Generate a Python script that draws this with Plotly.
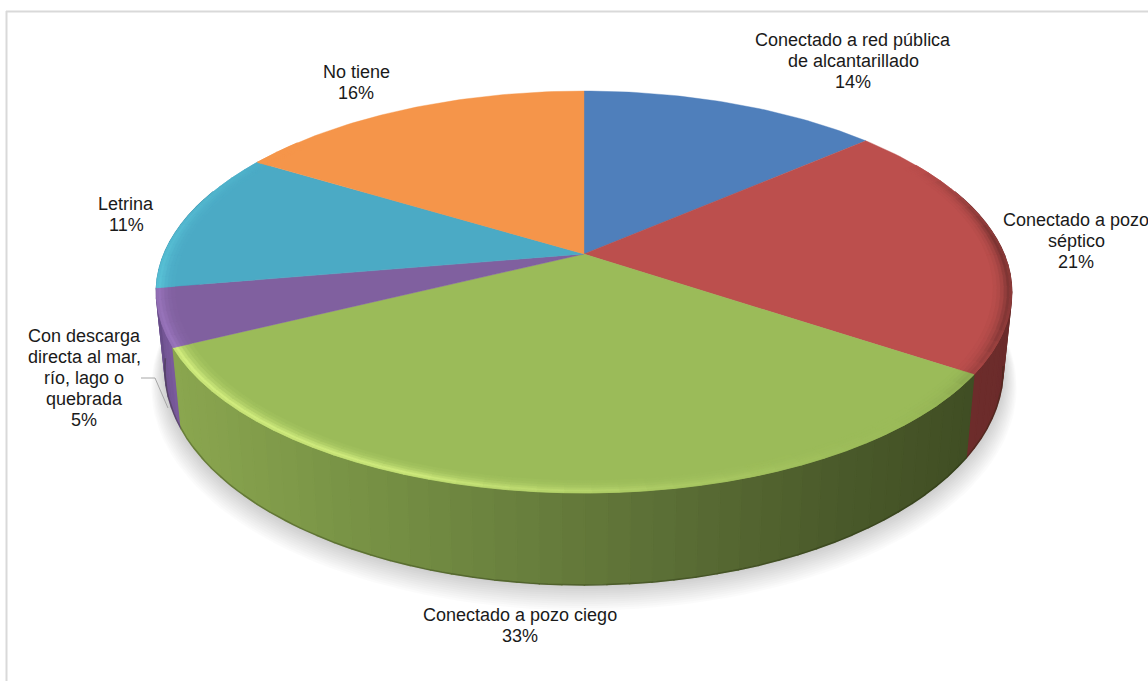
import numpy as np
import plotly.graph_objects as go

# ---- data ----
categories = [["Conectado a red pública", "de alcantarillado"], ["Conectado a pozo", "séptico"],
              ["Conectado a pozo ciego"], ["Con descarga", "directa al mar,", "río, lago o", "quebrada"],
              ["Letrina"], ["No tiene"]]
values = [13.6, 20.8, 33.3, 4.6, 11.4, 16.3]

# ---- style ----
top_colors = ["#4f7fbb", "#bc4f4d", "#9bbb59", "#80609f", "#4baac5", "#f5954a"]
wall_left = ["#3a5f8f", "#7a2e2c", "#8ca850", "#7a5a9c", "#3f9ab5", "#c87838"]
wall_right = ["#2c4468", "#5a1f1f", "#3d4a22", "#654a85", "#2f7f96", "#a06028"]
bevel_amp = [0.2, 1.0, 0.85, 0.45, 0.4, 0.1]
label_xy = [(853, 61), (1076, 241), (520, 625), (84, 378), (126, 214), (356, 82)]

W, H = 1148, 681
CX, CY, RX, RY, K, DEPTH = 584, 254, 420, 193.8, 0.189, 74.6
LINE_H = 21


def rgb(h):
    return np.array([int(h[i:i + 2], 16) for i in (1, 3, 5)], float)


def css(c):
    c = np.clip(c, 0, 255).round().astype(int)
    return f"rgb({c[0]},{c[1]},{c[2]})"


def proj(theta_deg, r=1.0, base=False):
    t = np.radians(np.asarray(theta_deg, float))
    u, v = r * np.sin(t), -r * np.cos(t)
    w = 1 - K * v
    x, y = RX * u / w, RY * v / w
    if base:
        return CX + 0.98 * x, CY + y + DEPTH / w
    return CX + x, CY + y


def poly(x, y, color, lw=0.6):
    return go.Scatter(x=np.append(x, x[0]), y=np.append(y, y[0]), mode="lines", fill="toself",
                      fillcolor=color, line=dict(color=color, width=lw), hoverinfo="skip", showlegend=False)


fig = go.Figure()
edges = 360.0 * np.cumsum([0] + values) / sum(values)

# soft shadow below the disc
full = np.arange(0, 360, 2.0)
for n in range(12, 0, -1):
    x, y = proj(full, 1 + 0.0026 * n, base=True)
    fig.add_trace(poly(x, y + 1.3 * n, "rgba(0,0,0,0.015)", 0))

# side wall, painted from the back towards the front
for i in [5, 4, 3, 0, 1, 2]:
    a0, a1 = max(edges[i], 70), min(edges[i + 1], 290)
    if a1 <= a0:
        continue
    steps = np.linspace(a0, a1, max(2, int((a1 - a0) / 2.5) + 1))
    cl, cr = rgb(wall_left[i]), rgb(wall_right[i])
    for s0, s1 in zip(steps[:-1], steps[1:]):
        xt, yt = proj([s0, s1])
        xb, yb = proj([s1, s0], base=True)
        xm = (xt.mean() - 155) / (1012 - 155)
        if i == 2:
            c = np.interp(xm, [0, 0.3, 0.55, 0.8, 1], [0, 1, 2, 3, 4])
            stops = np.array([rgb("#8ca850"), rgb("#728c42"), rgb("#5f7338"), rgb("#4a5a2a"), rgb("#3d4a22")])
            col = np.array([np.interp(c, range(5), stops[:, k]) for k in range(3)])
        else:
            f = (s0 - edges[i]) / (edges[i + 1] - edges[i])
            col = cl * (1 - f) + cr * f if i != 1 else cl * f * 0.35 + cr * (1 - f * 0.35) + 8
        fig.add_trace(poly(np.r_[xt, xb], np.r_[yt, yb], css(col), 1.4))

# dark lower edge of the wall
arc = np.linspace(100, 262, 80)
xe, ye = proj(arc, base=True)
fig.add_trace(go.Scatter(x=xe, y=ye, mode="lines", line=dict(color="rgba(30,35,10,0.3)", width=1.5),
                         hoverinfo="skip", showlegend=False))

# top faces
for i in range(len(values)):
    arc = np.linspace(edges[i], edges[i + 1], max(3, int(values[i] * 3.6)))
    x, y = proj(arc)
    fig.add_trace(poly(np.r_[CX, x], np.r_[CY, y], top_colors[i], 0.4))

# bevel along the rim
shade_at = [60, 85, 110, 130, 150, 170, 200, 240, 262, 285, 310]
shade_val = [0, -0.35, -0.3, -0.05, 0.05, 0.25, 0.8, 0.85, 0.7, 0.4, 0]
ring_edges = np.array([0.958, 0.967, 0.975, 0.983, 0.99, 0.996, 1.0])
ring_gain = [0.08, 0.2, 0.4, 0.7, 1.0, 0.85]
for i in range(len(values)):
    a0, a1 = max(edges[i], 60), min(edges[i + 1], 310)
    if a1 <= a0:
        continue
    steps = np.linspace(a0, a1, max(2, int((a1 - a0) / 3) + 1))
    base = rgb(top_colors[i])
    tint = np.minimum(base * 1.35 + 20, 255)
    for s0, s1 in zip(steps[:-1], steps[1:]):
        amt = np.interp((s0 + s1) / 2, shade_at, shade_val) * bevel_amp[i]
        for r0, r1, g in zip(ring_edges[:-1], ring_edges[1:], ring_gain):
            a = amt * g
            col = base + (tint - base) * a if a > 0 else base * (1 + a)
            x1, y1 = proj([s0, s1], r1)
            x0, y0 = proj([s1, s0], r0)
            fig.add_trace(poly(np.r_[x1, x0], np.r_[y1, y0], css(col), 0.7))

# leader line of the small slice
fig.add_trace(go.Scatter(x=[141, 155, 168], y=[378, 378, 408], mode="lines",
                         line=dict(color="#a6a6a6", width=1), hoverinfo="skip", showlegend=False))

for name, v, (lx, ly) in zip(categories, values, label_xy):
    lines = name + [f"{round(v)}%"]
    y0 = ly - LINE_H * (len(lines) - 1) / 2
    for j, text in enumerate(lines):
        fig.add_annotation(x=lx, y=y0 + j * LINE_H, xref="x", yref="y", text=text, showarrow=False,
                           xanchor="center", yanchor="middle",
                           font=dict(family="Liberation Sans, Arial, sans-serif", size=18, color="#1a1a1a"))

axis = dict(visible=False, fixedrange=True)
fig.update_layout(
    width=W, height=H, margin=dict(l=0, r=0, t=0, b=0), showlegend=False,
    paper_bgcolor="white", plot_bgcolor="white",
    xaxis=dict(range=[0, W], **axis),
    yaxis=dict(range=[H, 0], **axis),
    shapes=[
        dict(type="line", xref="x", yref="y", x0=6.5, x1=6.5, y0=11, y1=H, line=dict(color="#d9d9d9", width=2)),
        dict(type="line", xref="x", yref="y", x0=6, x1=W, y0=11.5, y1=11.5, line=dict(color="#d9d9d9", width=2)),
    ],
)
fig.write_html("out.html", config={"displayModeBar": False},
               post_script="document.body.style.margin='0';")
